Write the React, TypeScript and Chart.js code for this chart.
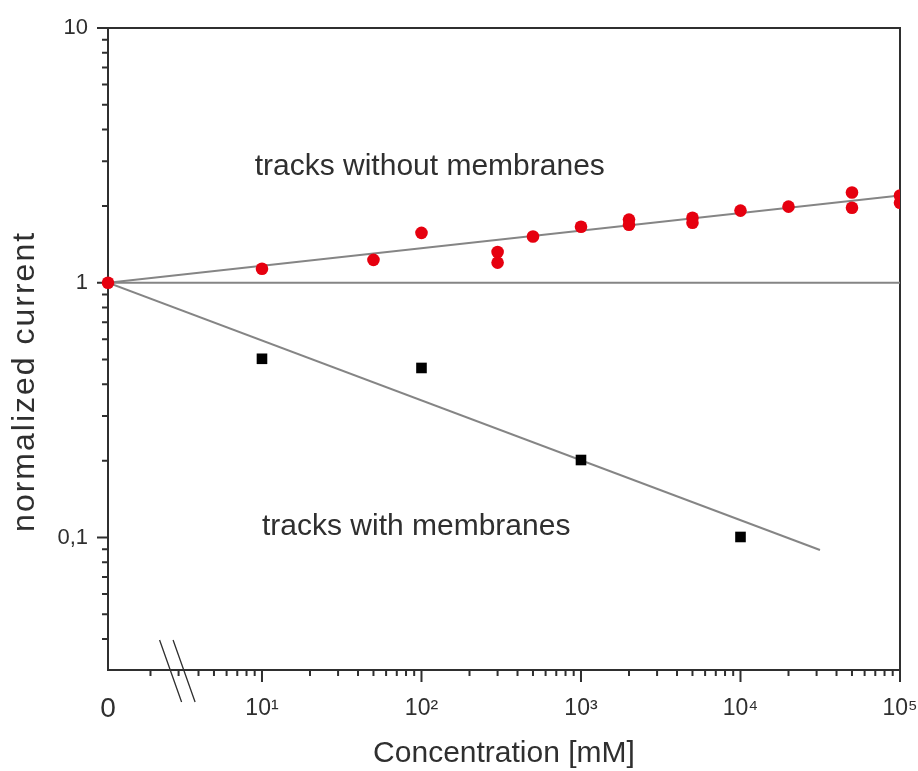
import React, { useEffect, useRef } from 'react';
import { Chart, registerables } from 'chart.js';

Chart.register(...registerables);

const FONT = "'Liberation Sans', Arial, Helvetica, sans-serif";
const INK = '#2f2f2f';
const RED = '#e6000f';
const FIT = '#858585';

// Axis ranges. The x axis is logarithmic and broken near its start, where
// the zero concentration is shown.
const X_ZERO = 1.083;
const X_MAX = 1e5;
const Y_MIN = 0.0302;
const Y_MAX = 10;

const xMajorTicks = [0, 10, 100, 1000, 10000, 100000];
const xMajorLabels = ['0', '10¹', '10²', '10³', '10⁴', '10⁵'];
const xDecades = [1, 10, 100, 1000, 10000];
const yMajorTicks = [0.1, 1, 10];
const yMajorLabels = ['0,1', '1', '10'];
const yDecades = [0.01, 0.1, 1];
const minorSteps = [2, 3, 4, 5, 6, 7, 8, 9];

// tracks without membranes
const withoutConc = [0, 10, 50, 100, 300, 300, 500, 1000, 2000, 2000, 5000, 5000, 10000, 20000, 50000, 50000, 100000, 100000];
const withoutCurrent = [1, 1.135, 1.23, 1.57, 1.32, 1.2, 1.52, 1.66, 1.77, 1.69, 1.8, 1.72, 1.92, 1.99, 2.26, 1.97, 2.2, 2.06];

// tracks with membranes
const withConc = [10, 100, 1000, 10000];
const withCurrent = [0.503, 0.463, 0.2015, 0.1005];

// fitted trends and the reference level
const fitWithoutConc = [0, 100000];
const fitWithoutCurrent = [1, 2.2];
const fitWithConc = [0, 31500];
const fitWithCurrent = [1, 0.0893];
const levelConc = [0, 100000];
const levelCurrent = [1, 1];

const toAxisX = (c: number) => (c === 0 ? X_ZERO : c);
const points = (xs: number[], ys: number[]) => xs.map((c, i) => ({ x: toAxisX(c), y: ys[i] }));

const frameAndTicks = {
  id: 'frameAndTicks',
  beforeDatasetsDraw(chart: any) {
    const { ctx, chartArea: a, scales } = chart;
    const xs = scales.x;
    const ys = scales.y;
    ctx.save();
    ctx.strokeStyle = INK;
    ctx.lineWidth = 2;
    ctx.strokeRect(a.left, a.top, a.right - a.left, a.bottom - a.top);
    ctx.beginPath();
    xMajorTicks.slice(1).forEach((v) => {
      const p = xs.getPixelForValue(v);
      ctx.moveTo(p, a.bottom);
      ctx.lineTo(p, a.bottom + 12);
    });
    xDecades.forEach((d) =>
      minorSteps.forEach((s) => {
        const v = d * s;
        if (v <= X_ZERO || v >= X_MAX) return;
        const p = xs.getPixelForValue(v);
        ctx.moveTo(p, a.bottom);
        ctx.lineTo(p, a.bottom + 6);
      })
    );
    yMajorTicks.forEach((v) => {
      const p = ys.getPixelForValue(v);
      ctx.moveTo(a.left, p);
      ctx.lineTo(a.left - 11, p);
    });
    yDecades.forEach((d) =>
      minorSteps.forEach((s) => {
        const v = d * s;
        if (v <= Y_MIN || v >= Y_MAX) return;
        const p = ys.getPixelForValue(v);
        ctx.moveTo(a.left, p);
        ctx.lineTo(a.left - 6, p);
      })
    );
    ctx.stroke();
    ctx.restore();
  },
  afterDraw(chart: any) {
    const { ctx, chartArea: a, scales } = chart;
    const xs = scales.x;
    const ys = scales.y;
    ctx.save();
    // axis break marks
    const bx = xs.getPixelForValue(3) - 1.5;
    ctx.strokeStyle = INK;
    ctx.lineWidth = 1.3;
    ctx.beginPath();
    [-7, 6.5].forEach((off) => {
      ctx.moveTo(bx + off - 10.5, a.bottom - 30);
      ctx.lineTo(bx + off + 11.5, a.bottom + 32);
    });
    ctx.stroke();

    // series captions
    ctx.fillStyle = INK;
    ctx.font = `30px ${FONT}`;
    ctx.textAlign = 'left';
    ctx.textBaseline = 'middle';
    ctx.fillText('tracks without membranes', xs.getPixelForValue(9), ys.getPixelForValue(2.86));
    ctx.fillText('tracks with membranes', xs.getPixelForValue(10), ys.getPixelForValue(0.11));

    // y axis title
    ctx.translate(25, ys.getPixelForValue(0.41));
    ctx.rotate(-Math.PI / 2);
    ctx.font = `32px ${FONT}`;
    ctx.textAlign = 'center';
    (ctx as any).letterSpacing = '2px';
    ctx.fillText('normalized current', 0, 0);
    ctx.restore();
  },
};

export default function App() {
  const canvasRef = useRef<HTMLCanvasElement | null>(null);

  useEffect(() => {
    const canvas = canvasRef.current;
    if (!canvas) return;
    const chart = new Chart(canvas, {
      type: 'scatter',
      data: {
        datasets: [
          {
            label: 'tracks without membranes',
            data: points(withoutConc, withoutCurrent),
            backgroundColor: RED,
            borderWidth: 0,
            pointRadius: 6.3,
            pointStyle: 'circle',
            clip: { left: 10, top: 10, right: 0, bottom: 10 },
          },
          {
            label: 'tracks with membranes',
            data: points(withConc, withCurrent),
            backgroundColor: '#000000',
            borderWidth: 0,
            pointRadius: 7.5,
            pointStyle: 'rect',
          },
          {
            type: 'line',
            label: 'fit without membranes',
            data: points(fitWithoutConc, fitWithoutCurrent),
            borderColor: FIT,
            borderWidth: 2,
            pointRadius: 0,
            showLine: true,
          },
          {
            type: 'line',
            label: 'fit with membranes',
            data: points(fitWithConc, fitWithCurrent),
            borderColor: FIT,
            borderWidth: 2,
            pointRadius: 0,
            showLine: true,
          },
          {
            type: 'line',
            label: 'level',
            data: points(levelConc, levelCurrent),
            borderColor: FIT,
            borderWidth: 2,
            pointRadius: 0,
            showLine: true,
          },
        ] as any,
      },
      options: {
        animation: false,
        responsive: false,
        devicePixelRatio: 1,
        events: [],
        layout: { padding: { top: 28, right: 18, bottom: 0, left: 0 } },
        plugins: {
          legend: { display: false },
          tooltip: { enabled: false },
        },
        scales: {
          x: {
            type: 'logarithmic',
            bounds: 'data',
            min: X_ZERO,
            max: X_MAX,
            border: { display: false },
            grid: { display: false, drawTicks: false },
            afterBuildTicks: (scale: any) => {
              scale.ticks = xMajorTicks.map((v) => ({ value: toAxisX(v) }));
            },
            afterFit: (scale: any) => {
              scale.height = 101;
              scale.paddingLeft = 0;
              scale.paddingRight = 0;
            },
            ticks: {
              autoSkip: false,
              maxRotation: 0,
              minRotation: 0,
              padding: 25,
              color: INK,
              font: (c: any) =>
                c.index === 0
                  ? { family: FONT, size: 28, lineHeight: 1 }
                  : { family: FONT, size: 23, lineHeight: 1.2 },
              callback: (_v: any, i: number) => xMajorLabels[i],
            },
            title: {
              display: true,
              text: 'Concentration [mM]',
              color: INK,
              font: { family: FONT, size: 30, lineHeight: 1 },
              padding: { top: 0, bottom: 2 },
            },
          },
          y: {
            type: 'logarithmic',
            bounds: 'data',
            min: Y_MIN,
            max: Y_MAX,
            border: { display: false },
            grid: { display: false, drawTicks: false },
            afterBuildTicks: (scale: any) => {
              scale.ticks = yMajorTicks.map((v) => ({ value: v }));
            },
            afterFit: (scale: any) => {
              scale.width = 108;
              scale.paddingTop = 0;
              scale.paddingBottom = 0;
            },
            ticks: {
              autoSkip: false,
              padding: 20,
              color: INK,
              font: { family: FONT, size: 22 },
              callback: (_v: any, i: number) => yMajorLabels[i],
            },
          },
        },
      } as any,
      plugins: [frameAndTicks],
    });
    return () => chart.destroy();
  }, []);

  return (
    <div style={{ position: 'fixed', left: 0, top: 0, width: 918, height: 771, background: '#ffffff' }}>
      <canvas ref={canvasRef} width={918} height={771} style={{ display: 'block', width: 918, height: 771 }} />
    </div>
  );
}
